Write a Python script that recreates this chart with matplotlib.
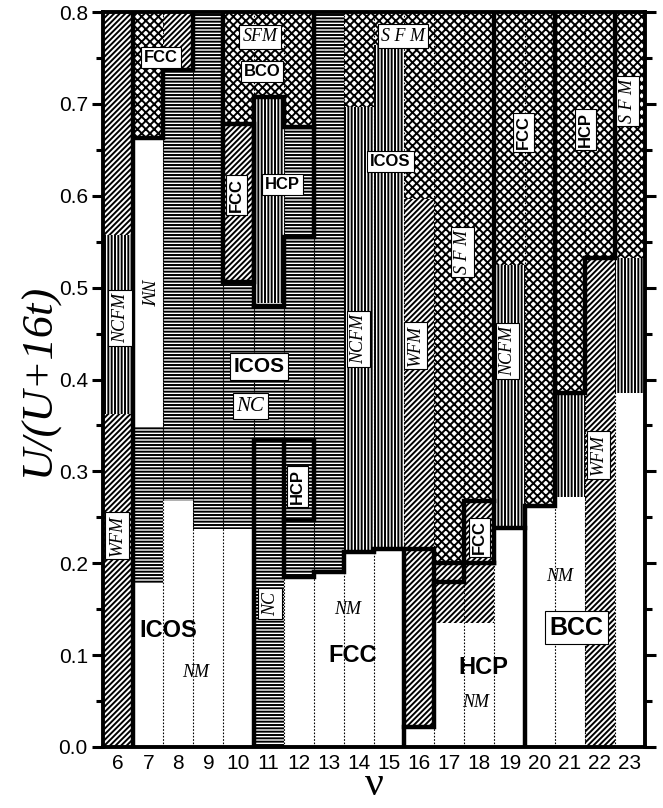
import matplotlib
matplotlib.use("Agg")
import matplotlib.pyplot as plt

plt.rcParams['hatch.linewidth'] = 1.4

# valence nu, one column each
nu = list(range(6, 24))

# magnetic phase of each stripe, bottom to top, and upper edge of each stripe
col_phases = [
    ["WFM", "NCFM", "WFM"],            # 6
    ["NM", "NC", "NM", "SFM"],         # 7
    ["NM", "NC", "WFM"],               # 8
    ["NM", "NC"],                      # 9
    ["NM", "NC", "WFM", "SFM"],        # 10
    ["NC", "NCFM", "SFM"],             # 11
    ["NM", "NC", "NC", "SFM"],         # 12
    ["NM", "NC"],                      # 13
    ["NM", "NCFM", "SFM"],             # 14
    ["NM", "NCFM", "SFM"],             # 15
    ["NM", "WFM", "SFM"],              # 16
    ["NM", "WFM", "SFM"],              # 17
    ["NM", "WFM", "SFM"],              # 18
    ["NM", "NCFM", "SFM"],             # 19
    ["NM", "SFM"],                     # 20
    ["NM", "NCFM", "SFM"],             # 21
    ["WFM", "SFM"],                    # 22
    ["NM", "NCFM", "SFM"],             # 23
]
col_tops = [
    [0.362, 0.557, 0.8],
    [0.178, 0.349, 0.663, 0.8],
    [0.268, 0.737, 0.8],
    [0.237, 0.8],
    [0.237, 0.506, 0.678, 0.8],
    [0.483, 0.708, 0.8],
    [0.185, 0.555, 0.675, 0.8],
    [0.19, 0.8],
    [0.212, 0.697, 0.8],
    [0.215, 0.764, 0.8],
    [0.022, 0.597, 0.8],
    [0.135, 0.2, 0.8],
    [0.135, 0.268, 0.8],
    [0.238, 0.525, 0.8],
    [0.262, 0.8],
    [0.272, 0.385, 0.8],
    [0.532, 0.8],
    [0.385, 0.532, 0.8],
]

hatches = {"NM": "", "WFM": "//////", "NC": "-----", "NCFM": "|||||", "SFM": "xxxx"}

# structure boundaries (thick lines)
boundaries = [
    [(6.5, 0.0), (6.5, 0.8)],
    [(6.5, 0.663), (7.5, 0.663), (7.5, 0.737), (8.5, 0.737), (8.5, 0.8)],
    [(9.5, 0.8), (9.5, 0.506), (10.5, 0.506), (10.5, 0.678), (9.5, 0.678)],
    [(10.5, 0.48), (10.5, 0.708), (11.5, 0.708), (11.5, 0.675), (12.5, 0.675),
     (12.5, 0.555), (11.5, 0.555), (11.5, 0.48), (10.5, 0.48)],
    [(12.5, 0.8), (12.5, 0.675)],
    [(10.5, 0.0), (10.5, 0.334), (12.5, 0.334), (12.5, 0.247), (11.5, 0.247)],
    [(11.5, 0.334), (11.5, 0.185), (12.5, 0.185), (12.5, 0.19), (13.5, 0.19),
     (13.5, 0.212), (14.5, 0.212), (14.5, 0.215), (15.5, 0.215), (15.5, 0.0)],
    [(15.5, 0.215), (16.5, 0.215), (16.5, 0.022), (15.5, 0.022)],
    [(16.5, 0.18), (17.5, 0.18), (17.5, 0.268), (18.5, 0.268)],
    [(16.5, 0.2), (18.5, 0.2)],
    [(18.5, 0.2), (18.5, 0.8)],
    [(18.5, 0.238), (19.5, 0.238)],
    [(19.5, 0.0), (19.5, 0.262), (20.5, 0.262), (20.5, 0.8)],
    [(20.5, 0.385), (21.5, 0.385), (21.5, 0.532), (22.5, 0.532), (22.5, 0.8)],
]

# (nu, U, text, kind, rotation)
labels = [
    (7.43, 0.751, "FCC", "bold", 0),
    (10.72, 0.773, "SFM", "ital", 0),
    (10.78, 0.735, "BCO", "bold", 0),
    (9.92, 0.601, "FCC", "bold", 90),
    (11.45, 0.612, "HCP", "bold", 0),
    (15.04, 0.637, "ICOS", "bold", 0),
    (15.47, 0.774, "S F M", "ital", 0),
    (17.43, 0.539, "S F M", "ital", 90),
    (19.45, 0.669, "FCC", "bold", 90),
    (21.51, 0.672, "HCP", "bold", 90),
    (22.91, 0.703, "S F M", "ital", 90),
    (6.07, 0.467, "NCFM", "ital", 90),
    (10.68, 0.414, "ICOS", "bigbox", 0),
    (10.39, 0.371, "NC", "bigital", 0),
    (5.97, 0.23, "WFM", "ital", 90),
    (11.05, 0.156, "NC", "ital", 90),
    (11.95, 0.284, "HCP", "bold", 90),
    (18.0, 0.228, "FCC", "bold", 90),
    (13.98, 0.444, "NCFM", "ital", 90),
    (15.87, 0.437, "WFM", "ital", 90),
    (18.93, 0.431, "NCFM", "ital", 90),
    (21.95, 0.318, "WFM", "ital", 90),
    (21.22, 0.13, "BCC", "huge", 0),
]
plain_labels = [
    (6.93, 0.496, "NM", "ital", 270),
    (7.66, 0.127, "ICOS", "big", 0),
    (8.56, 0.081, "NM", "ital", 0),
    (13.64, 0.15, "NM", "ital", 0),
    (13.78, 0.1, "FCC", "big", 0),
    (18.13, 0.087, "HCP", "big", 0),
    (17.86, 0.048, "NM", "ital", 0),
    (20.68, 0.186, "NM", "ital", 0),
]

styles = {
    "bold": dict(family="Liberation Sans", weight="bold", size=12),
    "bigbox": dict(family="Liberation Sans", weight="bold", size=15),
    "big": dict(family="Liberation Sans", weight="bold", size=17),
    "huge": dict(family="Liberation Sans", weight="bold", size=18),
    "ital": dict(family="Liberation Serif", style="italic", size=13),
    "bigital": dict(family="Liberation Serif", style="italic", size=15),
}

fig = plt.figure(figsize=(6.63, 8.08), dpi=100)
ax = fig.add_axes([0.1554, 0.0755, 0.8175, 0.9095])

for x, phases, tops in zip(nu, col_phases, col_tops):
    bottom = 0.0
    for ph, top in zip(phases, tops):
        ax.bar(x, top - bottom, bottom=bottom, width=1.0, color="white",
               edgecolor="black", hatch=hatches[ph], linewidth=0, zorder=1)
        bottom = top

for xb in nu[:-1]:
    ax.axvline(xb + 0.5, color="black", lw=0.8, ls=(0, (1.5, 1.5)), zorder=2)

for line in boundaries:
    xs = [p[0] for p in line]
    ys = [p[1] for p in line]
    ax.plot(xs, ys, color="black", lw=3.2, solid_capstyle="projecting",
            solid_joinstyle="miter", zorder=3)

for x, y, s, kind, rot in labels:
    ax.text(x, y, s, ha="center", va="center", rotation=rot, zorder=4,
            bbox=dict(boxstyle="square,pad=0.18", fc="white", ec="black", lw=0.8),
            **styles[kind])

for x, y, s, kind, rot in plain_labels:
    ax.text(x, y, s, ha="center", va="center", rotation=rot, zorder=4,
            **styles[kind])

ax.set_xlim(5.5, 23.5)
ax.set_ylim(0, 0.8)
ax.set_xticks(nu)
ax.set_xticklabels([str(v) for v in nu], family="Liberation Sans", size=15)
ax.set_yticks([i / 10 for i in range(9)])
ax.set_yticklabels([f"{i / 10:.1f}" for i in range(9)], family="Liberation Sans", size=15)
ax.set_yticks([0.05 + i / 10 for i in range(8)], minor=True)
ax.tick_params(axis="x", length=0, pad=5)
ax.tick_params(axis="y", which="major", direction="out", length=8, width=2.2,
               right=True, pad=3)
ax.tick_params(axis="y", which="minor", direction="out", length=5, width=2.2,
               right=True)
for sp in ax.spines.values():
    sp.set_linewidth(2.8)
    sp.set_zorder(5)

ax.set_xlabel("ν", family="Liberation Serif", size=30, labelpad=-5)
ax.set_ylabel("U/(U+16t)", family="Liberation Serif", style="italic", size=32,
              labelpad=0)

fig.savefig("out.png", dpi=100)
